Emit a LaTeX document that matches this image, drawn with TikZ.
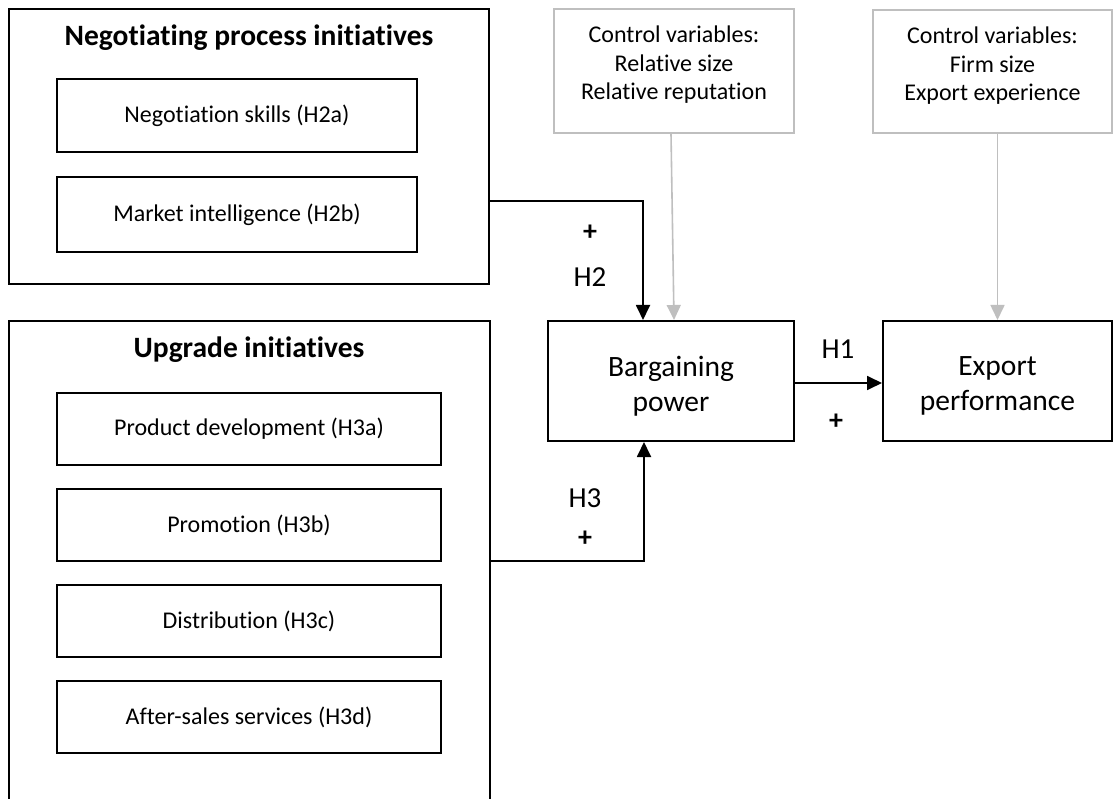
\documentclass[tikz,border=0pt]{standalone}
\usepackage{fontspec}
\setmainfont{Carlito}[Ligatures=NoCommon]
\usetikzlibrary{arrows.meta}
\definecolor{ctlgray}{HTML}{BFBFBF}
\begin{document}
\begin{tikzpicture}[x=1pt,y=-1pt,
  frame/.style={draw=black, line width=2pt, inner sep=0pt},
  itembox/.style={draw=black, line width=2pt, inner sep=0pt, font=\fontsize{24}{28}\selectfont},
  ctlbox/.style={draw=ctlgray, line width=1.6pt, inner sep=0pt},
  ctltext/.style={align=center, font=\fontsize{24}{28.5}\selectfont, inner sep=0pt},
  bigbox/.style={draw=black, line width=2pt, inner sep=0pt},
  bigtext/.style={align=center, inner sep=0pt, font=\fontsize{29.5}{35}\selectfont},
  title/.style={font=\fontsize{29.5}{34}\selectfont\bfseries, inner sep=0pt},
  lbl/.style={font=\fontsize{29}{34}\selectfont, inner sep=0pt},
  plus/.style={font=\fontsize{28}{32}\selectfont\bfseries, inner sep=0pt},
  arr/.style={draw=black, line width=1.8pt, -{Triangle[length=15pt,width=14pt]}},
  garr/.style={draw=ctlgray, line width=1.6pt, -{Triangle[length=15pt,width=14pt]}}
]
\useasboundingbox (0,0) rectangle (1114,799);
\fill[white] (0,0) rectangle (1114,799);

% Negotiating process initiatives
\node[frame, minimum width=480, minimum height=275] (npi) at (249,146.5) {};
\node[title] (npit) at (249,38) {Negotiating process initiatives};
\node[itembox, minimum width=360, minimum height=73] (h2a) at (237,115.5) {Negotiation skills (H2a)};
\node[itembox, minimum width=360, minimum height=75] (h2b) at (237,214.5) {Market intelligence (H2b)};

% Upgrade initiatives
\node[frame, minimum width=481, minimum height=494] (upg) at (249.5,568) {};
\node[title] (upgt) at (249,350) {Upgrade initiatives};
\node[itembox, minimum width=384, minimum height=72] (h3a) at (249,429) {Product development (H3a)};
\node[itembox, minimum width=384, minimum height=72] (h3b) at (249,525) {Promotion (H3b)};
\node[itembox, minimum width=384, minimum height=72] (h3c) at (249,621) {Distribution (H3c)};
\node[itembox, minimum width=384, minimum height=72] (h3d) at (249,717) {After-sales services (H3d)};

% Control variables
\node[ctlbox, minimum width=240, minimum height=124] (ctl1) at (674,71) {};
\node[ctltext] (ctl1t) at (674,65) {Control variables:\\Relative size\\Relative reputation};
\node[ctlbox, minimum width=239, minimum height=123] (ctl2) at (992.5,71.5) {};
\node[ctltext] (ctl2t) at (992.5,66) {Control variables:\\Firm size\\Export experience};

% Main constructs
\node[bigbox, minimum width=246, minimum height=120] (barg) at (671,381) {};
\node[bigtext] (bargt) at (671,386) {Bargaining\\power};
\node[bigbox, minimum width=229, minimum height=120] (exp) at (997.5,381) {};
\node[bigtext] (expt) at (997.5,386) {Export\\performance};

% Connectors
\draw[arr] (npi.east |- 0,201) -| ([xshift=-28pt]barg.north);
\draw[arr] (upg.east |- 0,561) -| ([xshift=-27pt]barg.south);
\draw[arr] ([yshift=-2pt]barg.east) -- ([yshift=-2pt]exp.west);
\draw[garr] (ctl1.south -| barg.north) -- ([xshift=3pt]barg.north);
\draw[garr] (ctl2.south -| exp.north) -- (exp.north);

% Labels
\node[plus] (p2) at (590,233) {+};
\node[lbl] (l2) at (590,277) {H2};
\node[lbl] (l1) at (838,349) {H1};
\node[plus] (p1) at (836,422) {+};
\node[lbl] (l3) at (585,498) {H3};
\node[plus] (p3) at (585,539) {+};
\end{tikzpicture}
\end{document}
